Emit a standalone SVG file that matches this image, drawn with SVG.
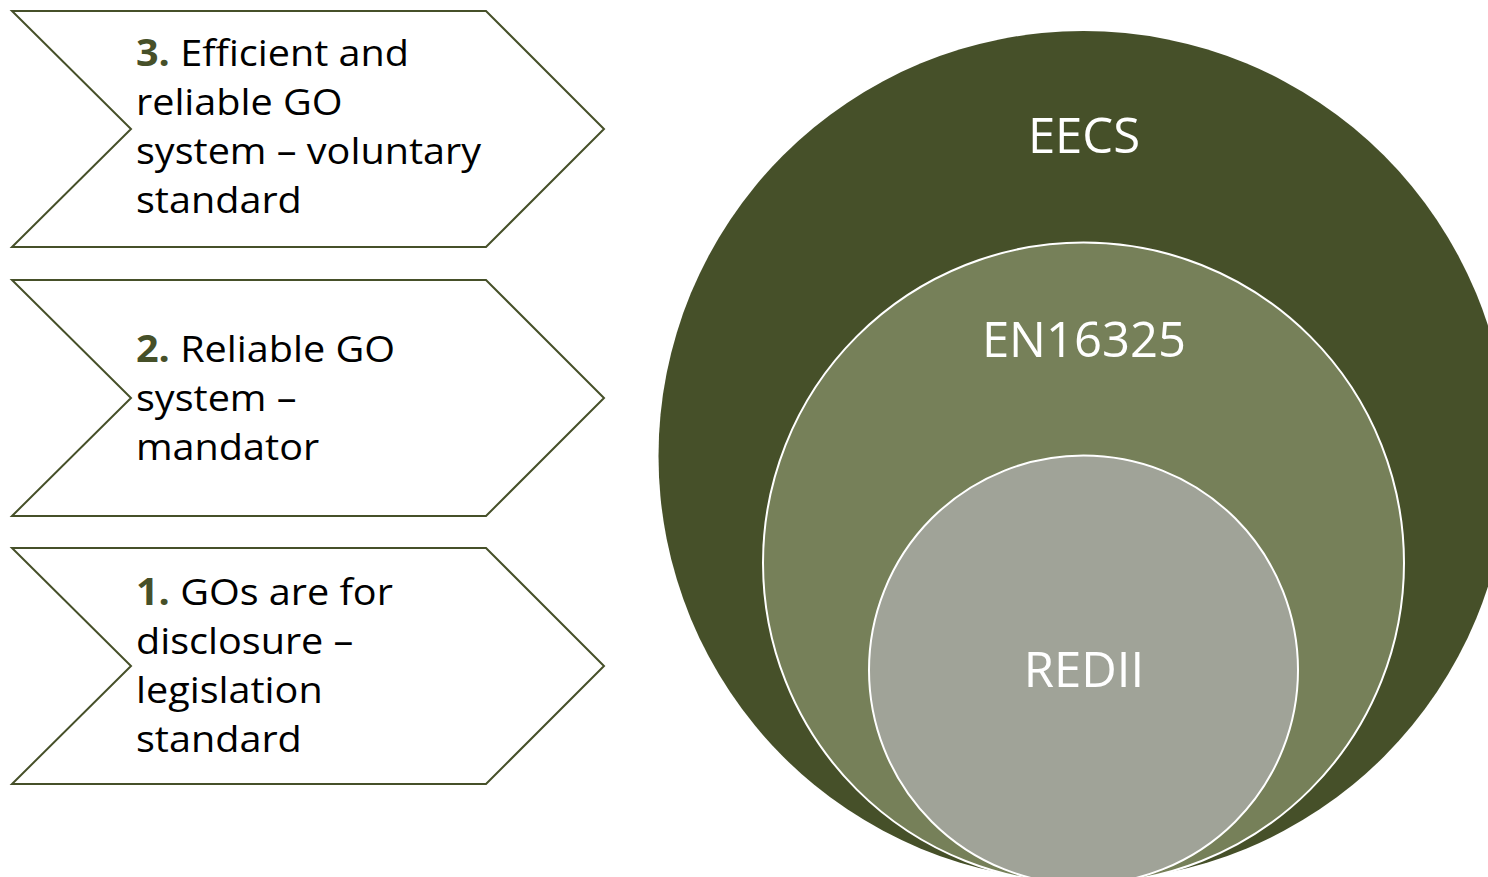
<svg xmlns="http://www.w3.org/2000/svg" width="1488" height="877" viewBox="0 0 1488 877">
<style>
.chev{fill:#ffffff;stroke:#465029;stroke-width:2;stroke-linejoin:miter}
.t{font-family:"Open Sans","Noto Sans","Liberation Sans",sans-serif;font-size:37px;fill:#000000}
.n{font-weight:bold;fill:#465029}
.c{font-family:"Open Sans","Noto Sans","Liberation Sans",sans-serif;font-size:49px;fill:#ffffff;text-anchor:middle}
</style>
<rect width="1488" height="877" fill="#ffffff"/>
<g id="chevron3">
<polygon class="chev" points="12,11 486,11 604,129 486,247 12,247 131,129"/>
<g transform="translate(136 0) scale(1.07 1) translate(-136 0)">
<text class="t" x="136" y="66"><tspan class="n">3.</tspan> Efficient and</text>
<text class="t" x="136" y="115">reliable GO</text>
<text class="t" x="136" y="164">system – voluntary</text>
<text class="t" x="136" y="213">standard</text>
</g>
</g>
<g id="chevron2">
<polygon class="chev" points="12,280 486,280 604,398 486,516 12,516 131,398"/>
<g transform="translate(136 0) scale(1.07 1) translate(-136 0)">
<text class="t" x="136" y="362"><tspan class="n">2.</tspan> Reliable GO</text>
<text class="t" x="136" y="411">system –</text>
<text class="t" x="136" y="460">mandator</text>
</g>
</g>
<g id="chevron1">
<polygon class="chev" points="12,548 486,548 604,666 486,784 12,784 131,666"/>
<g transform="translate(136 0) scale(1.07 1) translate(-136 0)">
<text class="t" x="136" y="605"><tspan class="n">1.</tspan> GOs are for</text>
<text class="t" x="136" y="654">disclosure –</text>
<text class="t" x="136" y="703">legislation</text>
<text class="t" x="136" y="752">standard</text>
</g>
</g>
<g id="eecs">
<circle cx="1083.5" cy="456" r="425" fill="#465029"/>
<text class="c" x="1084" y="153">EECS</text>
</g>
<g id="en16325">
<circle cx="1083.5" cy="563" r="320.5" fill="#768059" stroke="#ffffff" stroke-width="2"/>
<text class="c" x="1084" y="357">EN16325</text>
</g>
<g id="redii">
<circle cx="1083.5" cy="670" r="214.5" fill="#a0a398" stroke="#ffffff" stroke-width="2"/>
<text class="c" x="1084" y="687">REDII</text>
</g>
<g id="connectors"/>
</svg>
